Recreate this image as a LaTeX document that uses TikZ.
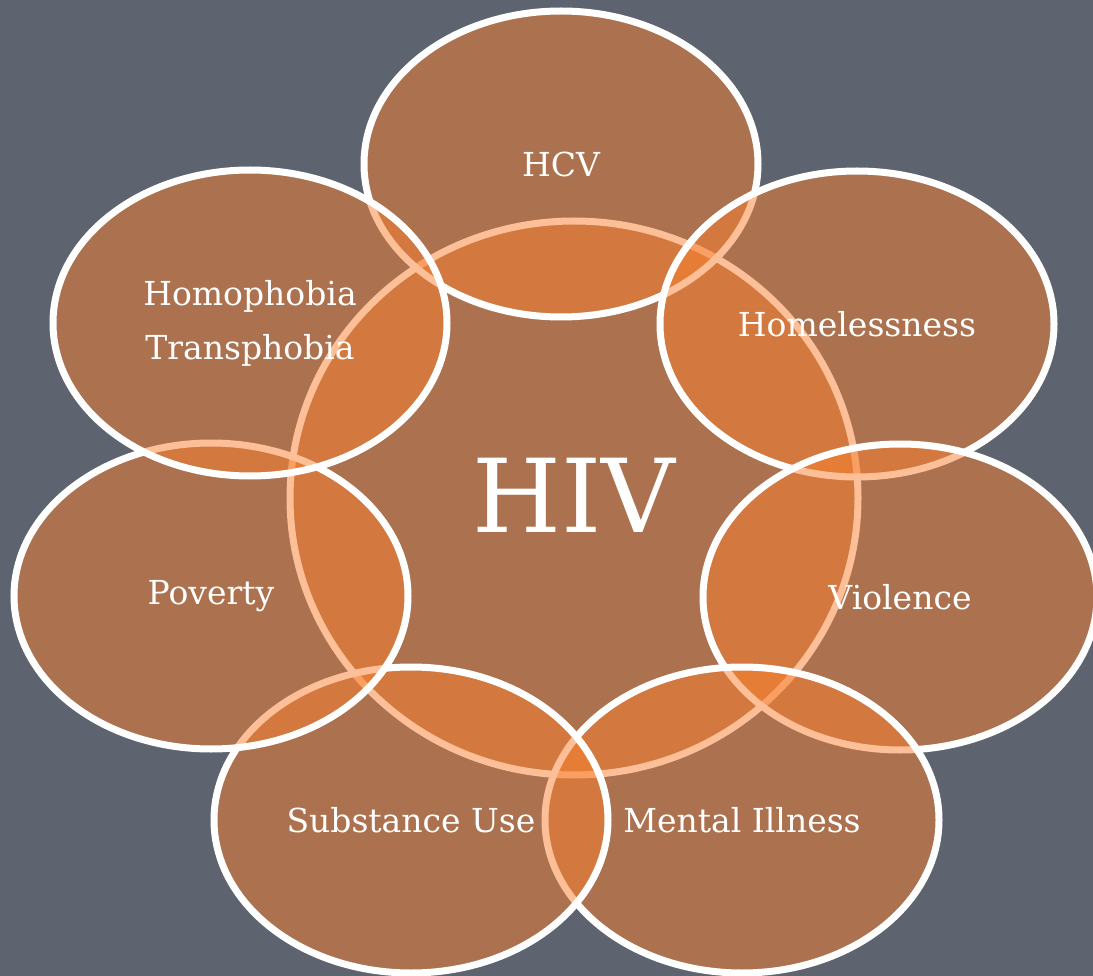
\documentclass[tikz,border=0pt]{standalone}
\usepackage{fontspec}
\setmainfont{DejaVu Serif}
\usetikzlibrary{shapes.geometric}
\definecolor{slate}{RGB}{94,99,112}
\definecolor{ember}{RGB}{250,129,48}
\def\ringw{394pt}
\def\ringh{306pt}
\tikzstyle{blob}=[ellipse, draw=white, line width=7pt, fill=ember, fill opacity=0.5, text opacity=1, text=white, inner sep=0pt]
\tikzstyle{issue}=[blob, minimum width=\ringw, minimum height=\ringh, font=\fontsize{33}{54}\selectfont, align=center]
\tikzstyle{core}=[blob, minimum width=568pt, minimum height=554pt, font=\fontsize{102}{110}\selectfont]

\begin{document}
\begin{tikzpicture}[x=1pt, y=-1pt]

  % Draw the background
  \fill[slate] (0,0) rectangle (1093,976);
  \useasboundingbox (0,0) rectangle (1093,976);

  % Draw the central node
  \node[core] (hiv) at (574,498) {\raisebox{6pt}{HIV}};

  % Draw the issues round it, clockwise from the top
  \foreach \name / \x / \y / \txt in {
      hcv/561/164/{HCV},
      homeless/857/324/{Homelessness},
      violence/900/597/{Violence},
      mental/742/820/{Mental Illness},
      substance/411/820/{Substance Use},
      poverty/211/596/{Poverty},
      phobia/250/323/{Homophobia\\Transphobia}}
    \node[issue] (\name) at (\x,\y) {\txt};

\end{tikzpicture}
\end{document}
